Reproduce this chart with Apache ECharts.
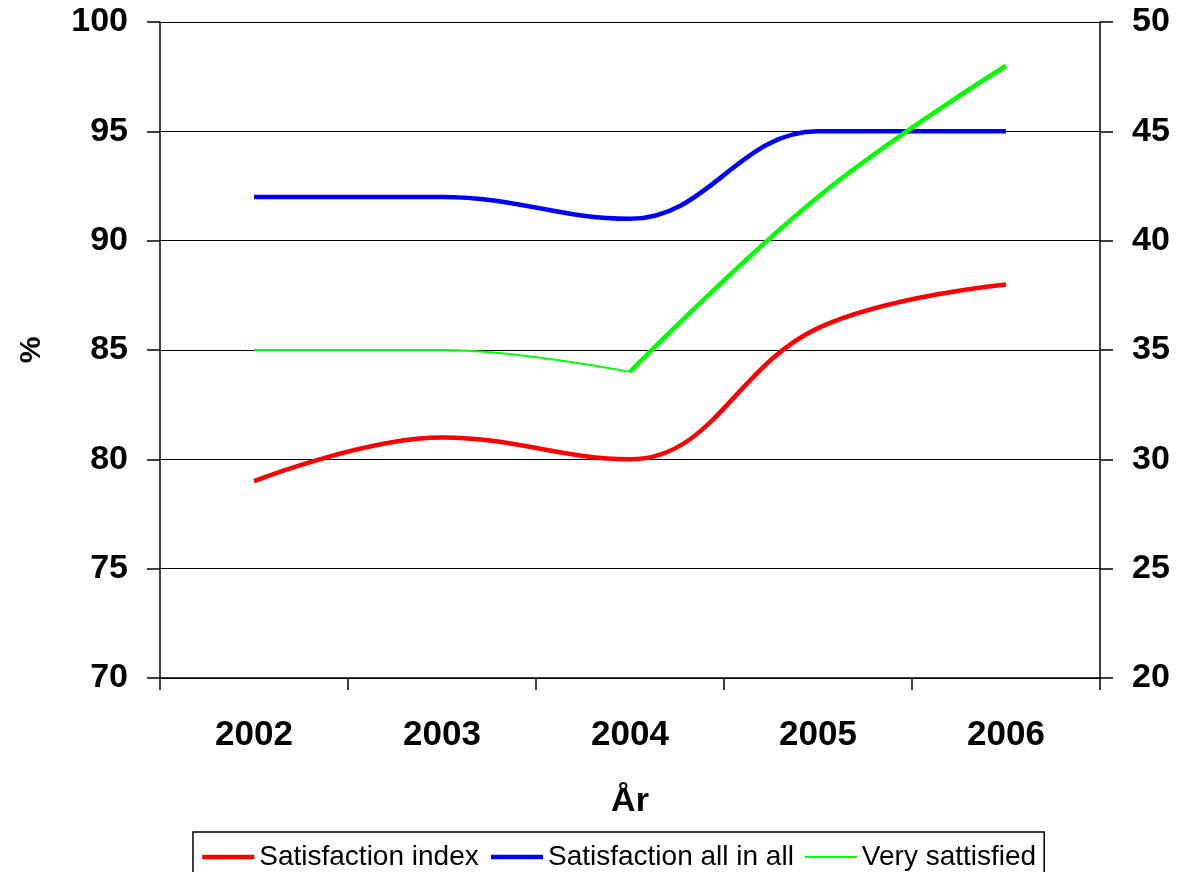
<!DOCTYPE html>
<html>
<head>
<meta charset="utf-8">
<script src="https://cdn.jsdelivr.net/npm/echarts@6/dist/echarts.min.js"></script>
<style>
html,body{margin:0;padding:0;background:#fff;}
#chart{width:1177px;height:872px;}
</style>
</head>
<body>
<div id="chart"></div>
<script>
var years = ['2002', '2003', '2004', '2005', '2006'];
var satisfactionIndex = [79, 81, 80, 86, 88];
var satisfactionAllInAll = [92, 92, 91, 95, 95];
// "Very sattisfied": thin stroke for 2002-2004, heavier stroke from 2004 on (as in the original)
var verySatisfiedThin = [35, 35, 34, null, null];
var verySatisfiedHeavy = [null, null, 34, 42, 48];

var FONT = '"Liberation Sans", Arial, sans-serif';
var chart = echarts.init(document.getElementById('chart'));
chart.setOption({
  backgroundColor: '#ffffff',
  animation: false,
  textStyle: { fontFamily: FONT },
  grid: { left: 160, right: 77, top: 22, bottom: 194, containLabel: false, outerBoundsMode: 'none' },
  legend: {
    data: [
      { name: 'Satisfaction index', lineStyle: { width: 4.5, color: '#ff0000' } },
      { name: 'Satisfaction all in all', lineStyle: { width: 4.5, color: '#0000ff' } },
      { name: 'Very sattisfied', lineStyle: { width: 2, color: '#00ff00' } }
    ],
    left: 193, top: 832,
    orient: 'horizontal',
    borderColor: '#000', borderWidth: 1.5,
    padding: [11, 8, 12, 7],
    itemGap: 10, itemWidth: 52, itemHeight: 30,
    itemStyle: { opacity: 0 },
    textStyle: { fontFamily: FONT, fontSize: 28, color: '#000' }
  },
  xAxis: {
    type: 'category',
    data: years,
    boundaryGap: true,
    name: 'År',
    nameLocation: 'middle',
    nameGap: 107,
    nameTextStyle: { fontFamily: FONT, fontSize: 34, fontWeight: 'bold', color: '#000' },
    axisLine: { lineStyle: { color: '#000', width: 1.5 } },
    axisTick: { show: true, inside: false, length: 12, alignWithLabel: false, lineStyle: { color: '#000', width: 1.5 } },
    axisLabel: { margin: 40, fontFamily: FONT, fontSize: 35, fontWeight: 'bold', color: '#000' },
    splitLine: { show: false }
  },
  yAxis: [
    {
      type: 'value', position: 'left',
      min: 70, max: 100, interval: 5,
      name: '%', nameLocation: 'middle', nameGap: 113, nameRotate: 90,
      nameTextStyle: { fontFamily: FONT, fontSize: 30, fontWeight: 'bold', color: '#000' },
      axisLine: { show: true, lineStyle: { color: '#000', width: 1.5 } },
      axisTick: { show: true, inside: false, length: 13, lineStyle: { color: '#000', width: 1.5 } },
      axisLabel: { margin: 32, fontFamily: FONT, fontSize: 34, fontWeight: 'bold', color: '#000' },
      splitLine: { show: true, lineStyle: { color: '#000', width: 1.2 } }
    },
    {
      type: 'value', position: 'right',
      min: 20, max: 50, interval: 5,
      axisLine: { show: true, lineStyle: { color: '#000', width: 1.5 } },
      axisTick: { show: true, inside: false, length: 13, lineStyle: { color: '#000', width: 1.5 } },
      axisLabel: { margin: 32, fontFamily: FONT, fontSize: 34, fontWeight: 'bold', color: '#000' },
      splitLine: { show: false }
    }
  ],
  series: [
    {
      name: 'Satisfaction index', type: 'line', yAxisIndex: 0,
      data: satisfactionIndex, smooth: 0.4, symbol: 'none', showSymbol: false,
      itemStyle: { color: '#ff0000' },
      lineStyle: { color: '#ff0000', width: 4.5 }
    },
    {
      name: 'Satisfaction all in all', type: 'line', yAxisIndex: 0,
      data: satisfactionAllInAll, smooth: 0.4, symbol: 'none', showSymbol: false,
      itemStyle: { color: '#0000ff' },
      lineStyle: { color: '#0000ff', width: 4.5 }
    },
    {
      name: 'Very sattisfied', type: 'line', yAxisIndex: 1,
      data: verySatisfiedThin, smooth: 0.4, symbol: 'none', showSymbol: false,
      itemStyle: { color: '#00ff00' },
      lineStyle: { color: '#00ff00', width: 2 }
    },
    {
      name: 'Very sattisfied (2004-2006)', type: 'line', yAxisIndex: 1,
      data: verySatisfiedHeavy, smooth: 0.4, symbol: 'none', showSymbol: false,
      itemStyle: { color: '#00ff00' },
      lineStyle: { color: '#00ff00', width: 4.5 }
    }
  ]
});
</script>
</body>
</html>
